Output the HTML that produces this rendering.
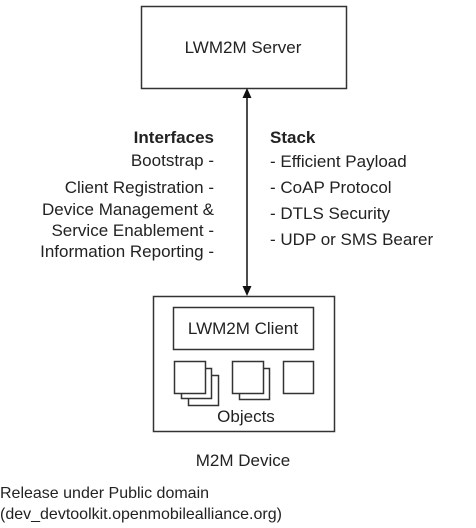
<!DOCTYPE html>
<html><head><meta charset="utf-8"><style>
html,body{margin:0;padding:0;background:#fff;}
svg{display:block;}
text{font-family:"Liberation Sans",Arial,sans-serif;fill:#222;}
</style></head><body>
<svg width="476" height="528" viewBox="0 0 476 528" xmlns="http://www.w3.org/2000/svg">
<g fill="#fff" stroke="#333" stroke-width="1.5">
<rect x="141.5" y="6.5" width="205" height="82"/>
<rect x="153.5" y="296.5" width="181" height="135"/>
<rect x="173.5" y="307.5" width="140" height="42"/>
<rect x="188.5" y="375.5" width="30" height="30"/>
<rect x="181.5" y="368.5" width="30" height="30"/>
<rect x="174.5" y="361.5" width="31" height="32"/>
<rect x="239.5" y="368.5" width="30" height="31"/>
<rect x="232.5" y="361.5" width="31" height="32"/>
<rect x="283.5" y="361.5" width="30" height="32"/>
</g>
<line x1="247" y1="96" x2="247" y2="288" stroke="#111" stroke-width="1.5"/>
<polygon points="247,88 242.5,98 251.5,98" fill="#111"/>
<polygon points="247,296 242.5,286 251.5,286" fill="#111"/>
<text x="243" y="53" font-size="17" text-anchor="middle">LWM2M Server</text>
<text x="243" y="334" font-size="17" text-anchor="middle">LWM2M Client</text>
<text x="246" y="422" font-size="17" text-anchor="middle">Objects</text>
<text x="243" y="466" font-size="17" text-anchor="middle">M2M Device</text>
<g font-size="17" text-anchor="end">
<text x="214" y="143" font-weight="bold">Interfaces</text>
<text x="214" y="166">Bootstrap -</text>
<text x="214" y="193">Client Registration -</text>
<text x="214" y="215">Device Management &amp;</text>
<text x="214" y="236">Service Enablement -</text>
<text x="214" y="257">Information Reporting -</text>
</g>
<g font-size="17">
<text x="270" y="143" font-weight="bold">Stack</text>
<text x="270" y="167">- Efficient Payload</text>
<text x="270" y="193">- CoAP Protocol</text>
<text x="270" y="219">- DTLS Security</text>
<text x="270" y="245">- UDP or SMS Bearer</text>
</g>
<g font-size="16">
<text x="0" y="498" fill="#000">Release under Public domain</text>
<text x="0" y="519" fill="#000">(dev_devtoolkit.openmobilealliance.org)</text>
</g>
</svg>
</body></html>
